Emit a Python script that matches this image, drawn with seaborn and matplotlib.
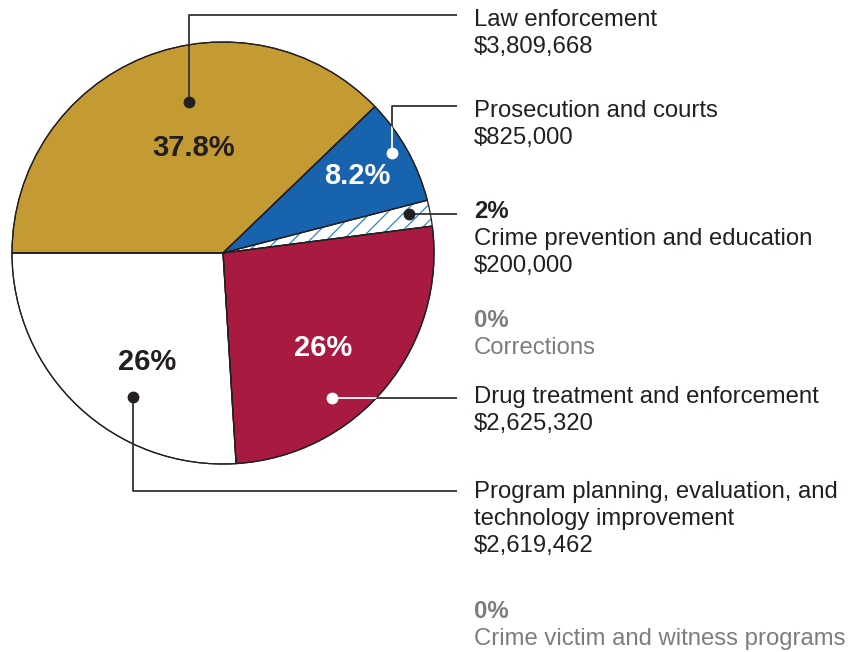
import matplotlib
matplotlib.use("Agg")
import matplotlib.pyplot as plt
import seaborn as sns

# ---- data ----
categories = ["Law enforcement", "Prosecution and courts", "Crime prevention and education",
              "Corrections", "Drug treatment and enforcement",
              "Program planning, evaluation, and\ntechnology improvement",
              "Crime victim and witness programs"]
amounts = [3809668, 825000, 200000, 0, 2625320, 2619462, 0]
slice_colors = ["#C49A33", "#1763AE", "#FFFFFF", "#FFFFFF", "#A81A40", "#FFFFFF", "#FFFFFF"]

sns.set_theme(style="white")
plt.rcParams["font.family"] = ["Liberation Sans", "DejaVu Sans"]
plt.rcParams["hatch.linewidth"] = 0.9

DARK = "#231F20"
GRAY = "#7D7D7D"
BLUE_H = "#2A86CF"

total = sum(amounts)
pcts = [a / total * 100 for a in amounts]


def fmt_pct(p):
    s = f"{p:.1f}"
    if s.endswith(".0"):
        s = s[:-2]
    return s + "%"


fig = plt.figure(figsize=(8.56, 6.52), dpi=100)
ax = fig.add_axes([0, 0, 1, 1])

idx = [i for i, a in enumerate(amounts) if a > 0]
vals = [amounts[i] for i in idx]
cols = [slice_colors[i] for i in idx]
CX, CY, R = 223, 253, 211

wedges, _ = ax.pie(vals, colors=cols, startangle=180, counterclock=True,
                   radius=R, center=(CX, CY),
                   wedgeprops=dict(edgecolor=DARK, linewidth=0.9))
# hatched crime prevention slice
hw = wedges[idx.index(2)]
hw.set_hatch("//")
hw.set_edgecolor(BLUE_H)
hw.set_linewidth(0)
# outline overlay
ax.pie(vals, startangle=180, counterclock=True, radius=R, center=(CX, CY),
       wedgeprops=dict(edgecolor=DARK, linewidth=0.9, fill=False))

ax.set_xlim(0, 856)
ax.set_ylim(652, 0)
ax.set_aspect("equal")
ax.axis("off")

# ---- percent labels on the pie ----
pie_lbl = {0: (193.5, 148, DARK), 1: (357.5, 176, "white"),
           4: (323.5, 347.5, "white"), 5: (147, 361.5, DARK)}
for i, (x, y, c) in pie_lbl.items():
    ax.text(x, y, fmt_pct(pcts[i]), ha="center", va="center", fontsize=21,
            fontweight="bold", color=c, zorder=6)

# ---- leader lines ----
LW = 1.3
XE = 457


def leader(pts, dot_color, clip_wedge=None):
    xs = [p[0] for p in pts]
    ys = [p[1] for p in pts]
    ax.plot(xs, ys, color="#333333", lw=LW, zorder=4, solid_capstyle="butt")
    if clip_wedge is not None:
        ln, = ax.plot(xs, ys, color="white", lw=LW, zorder=4.5, solid_capstyle="butt")
        ln.set_clip_path(clip_wedge)
    ax.plot([xs[0]], [ys[0]], "o", ms=7.5, color=dot_color, mec=dot_color, zorder=5)


leader([(189, 102), (189, 15), (XE, 15)], DARK)
leader([(392, 153), (392, 106), (XE, 106)], "white", wedges[idx.index(1)])
leader([(409, 214), (XE, 214)], DARK)
leader([(332, 398), (XE, 398)], "white", wedges[idx.index(4)])
leader([(133, 397), (133, 491), (XE, 491)], DARK)

# ---- right-hand labels ----
TX = 474
FS = 17.2
STEP = 27
first_base = [26, 117, 218, 327, 403, 498, 618]
for i, cat in enumerate(categories):
    y = first_base[i]
    lines = []
    zero = amounts[i] == 0
    color = GRAY if zero else DARK
    if i in (2, 3, 6):
        lines.append((fmt_pct(pcts[i]), "bold"))
    for part in cat.split("\n"):
        lines.append((part, "normal"))
    if not zero:
        lines.append((f"${amounts[i]:,}", "normal"))
    for k, (t, w) in enumerate(lines):
        ax.text(TX, y + k * STEP, t, ha="left", va="baseline", fontsize=FS,
                fontweight=w, color=color)

fig.savefig("out.png", dpi=100)
